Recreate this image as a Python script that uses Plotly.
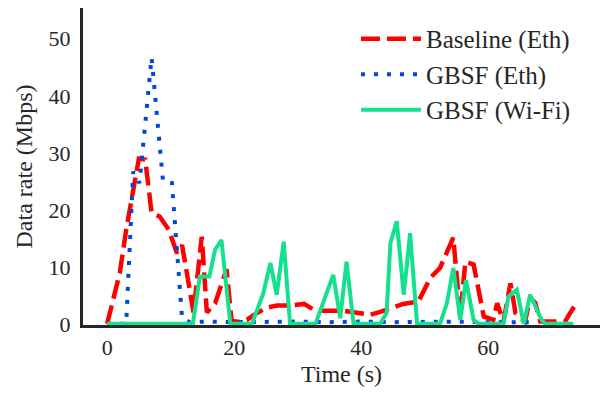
import plotly.graph_objects as go

# Baseline (Eth)
base_t = [0, 2, 3, 5, 6, 7, 8.3, 9.7, 11, 11.8, 13, 13.6, 14.9, 15.7, 17, 18.8, 19.6, 21, 22, 23,
          25, 26.7, 28.8, 31, 32.5, 34, 37.2, 39.8, 41.4, 43, 44.6, 46.6, 49, 50.9, 52.4, 54.5,
          55.6, 56.4, 57.7, 59.3, 60.8, 61.4, 62.4, 63.5, 64.3, 65.8, 66.6, 67.4, 68.2, 72.1, 73.5]
base_v = [0, 9, 16.5, 29, 28.8, 19.5, 18.8, 16.5, 12.4, 13.8, 6, 2, 15.3, 2, 3.6, 9.6, 0.5, 0.3, 0.7, 1.5,
          2.8, 3.2, 3.2, 3.5, 2.5, 2.3, 2.3, 1.9, 1.6, 2.1, 2.8, 3.5, 3.9, 8.1, 9.8, 15.1,
          1.3, 10.9, 10.4, 1.3, 0.7, 3.6, 0.4, 7.1, 1.9, 0.4, 4.5, 3.7, 0.4, 0.4, 3.0]

# GBSF (Eth)
eth_t = [0, 3, 4.1, 5.1, 7, 8.8, 10.2, 11.8, 13, 16, 20, 25, 30, 35, 40, 45, 50, 55, 60, 64, 67]
eth_v = [0, 0, 26.7, 24.7, 46.7, 25, 24.7, 1, 0.3, 0.4, 0.3, 0.4, 0.4, 0.3, 0.4, 0.3, 0.4, 0.4, 0.3, 0.4, 0.3]

# GBSF (Wi-Fi)
wifi_t = [0, 13.5, 14.6, 16.1, 17, 18, 19.4, 22.8, 24.6, 25.7, 26.7, 27.8, 28.8, 32.8, 35.6, 36.7,
          37.7, 38.8, 43, 44, 44.6, 45.6, 46.7, 47.7, 48.8, 52.4, 53.5, 54.5, 55.6, 56.5, 57.7,
          58.5, 62.4, 63.2, 64.5, 65.6, 66.6, 68.4, 69, 73.4]
wifi_v = [0, 0, 8.3, 8.3, 13, 14.7, 0, 0, 5.4, 10.7, 5.1, 14.4, 0, 0, 8.6, 1,
          10.9, 0, 0, 1.9, 14.2, 18, 5.1, 15.9, 0, 0, 3.6, 9.8, 0.7, 7.7, 0.7,
          0, 0, 4.8, 6, 0, 5.1, 0.7, 0, 0]

x_ticks = [0, 20, 40, 60]
y_ticks = [0, 10, 20, 30, 40, 50]

FONT = "Liberation Serif, Times New Roman, serif"
TXT = "#262626"

fig = go.Figure()
fig.add_trace(go.Scatter(x=base_t, y=base_v, mode="lines", name="Baseline (Eth)",
                         line=dict(color="#ff0000", width=4.5, dash="19px,7px")))
fig.add_trace(go.Scatter(x=eth_t, y=eth_v, mode="lines", name="GBSF (Eth)",
                         line=dict(color="#0047db", width=4, dash="4px,9px")))
fig.add_trace(go.Scatter(x=wifi_t, y=wifi_v, mode="lines", name="GBSF (Wi-Fi)",
                         line=dict(color="#14e08e", width=4)))

fig.update_layout(
    width=605, height=393,
    margin=dict(l=83, r=5, t=8, b=68),
    paper_bgcolor="white", plot_bgcolor="white",
    font=dict(family=FONT, size=22, color=TXT),
    showlegend=True,
    legend=dict(x=0.528, y=0.975, xanchor="left", yanchor="top", itemwidth=60,
                bgcolor="rgba(0,0,0,0)", font=dict(size=25, family=FONT, color=TXT)),
    xaxis=dict(range=[-3.8, 77.6], tickvals=x_ticks, showgrid=False, zeroline=False,
               showline=True, linecolor=TXT, linewidth=3, automargin=False,
               ticks="outside", ticklen=1, tickcolor="rgba(0,0,0,0)",
               tickfont=dict(size=22),
               title=dict(text="Time (s)", font=dict(size=24), standoff=6)),
    yaxis=dict(range=[-0.2, 55.4], tickvals=y_ticks, showgrid=False, zeroline=False,
               showline=True, linecolor=TXT, linewidth=3, automargin=False,
               ticks="outside", ticklen=5, tickcolor="rgba(0,0,0,0)",
               tickfont=dict(size=22),
               title=dict(text="Data rate (Mbps)", font=dict(size=24), standoff=10)),
)

fig.write_html("out.html", config={"displayModeBar": False},
               post_script="document.body.style.margin='0px';")
